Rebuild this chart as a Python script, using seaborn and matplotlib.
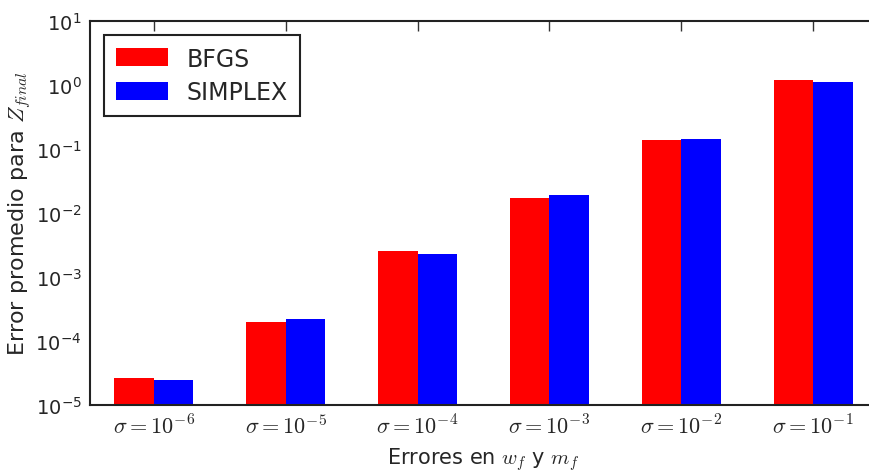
import numpy as np
import pandas as pd
import matplotlib
matplotlib.use("Agg")
import matplotlib.pyplot as plt
import seaborn as sns
from matplotlib.ticker import FixedLocator, LogFormatterSciNotation, NullFormatter

categories = [r"$\sigma=10^{-6}$", r"$\sigma=10^{-5}$", r"$\sigma=10^{-4}$",
              r"$\sigma=10^{-3}$", r"$\sigma=10^{-2}$", r"$\sigma=10^{-1}$"]
bfgs = [2.6e-5, 1.98e-4, 2.53e-3, 1.72e-2, 0.138, 1.20]
simplex = [2.5e-5, 2.19e-4, 2.31e-3, 1.91e-2, 0.144, 1.09]
series_names = ["BFGS", "SIMPLEX"]
y_major = [1e-5, 1e-4, 1e-3, 1e-2, 1e-1, 1e0, 1e1]

df = pd.DataFrame({
    "cat": categories * 2,
    "val": bfgs + simplex,
    "method": [series_names[0]] * len(categories) + [series_names[1]] * len(categories),
})

sns.set_style("white")
plt.rcParams["font.family"] = ["DejaVu Sans"]
plt.rcParams["mathtext.fontset"] = "cm"

fig = plt.figure(figsize=(8.69, 4.77), dpi=100)
ax = fig.add_axes([90 / 869, 1 - 406 / 477, (877 - 90) / 869, (406 - 21.7) / 477])
ax.set_yscale("log")
sns.barplot(data=df, x="cat", y="val", hue="method", order=categories,
            hue_order=series_names, palette=["#ff0000", "#0000ff"],
            width=0.6, linewidth=0, saturation=1, ax=ax, errorbar=None)

ax.set_ylim(1e-5, 1e1)
ax.set_xlim(-0.485, 5.485)
minor = [m * d for d in y_major[:-1] for m in range(2, 10)]
ax.yaxis.set_major_locator(FixedLocator(y_major))
ax.yaxis.set_major_formatter(LogFormatterSciNotation())
ax.yaxis.set_minor_locator(FixedLocator(minor))
ax.yaxis.set_minor_formatter(NullFormatter())

for s in ax.spines.values():
    s.set_visible(True)
    s.set_color("#222222")
    s.set_linewidth(1.5)

ax.tick_params(axis="both", which="both", direction="in", top=True, right=False,
               color="#333333")
ax.tick_params(axis="y", which="major", length=7, width=1, labelsize=14, pad=6)
ax.tick_params(axis="y", which="minor", length=3.5, width=0.8)
ax.tick_params(axis="x", which="major", length=7, width=1, labelsize=16, pad=6)

ax.set_xlabel(r"Errores en $w_f$ y $m_f$", fontsize=15, labelpad=6)
ax.set_ylabel(r"Error promedio para $Z_{final}$", fontsize=16, labelpad=2)

leg = ax.legend(loc="upper left", fontsize=17, frameon=True, fancybox=False,
                borderaxespad=0.6, handlelength=2.2, handleheight=0.8,
                labelspacing=0.4, borderpad=0.5)
leg.get_frame().set_edgecolor("#222222")
leg.get_frame().set_linewidth(1.5)
leg.get_frame().set_alpha(1)

fig.savefig("out.png", dpi=100)
